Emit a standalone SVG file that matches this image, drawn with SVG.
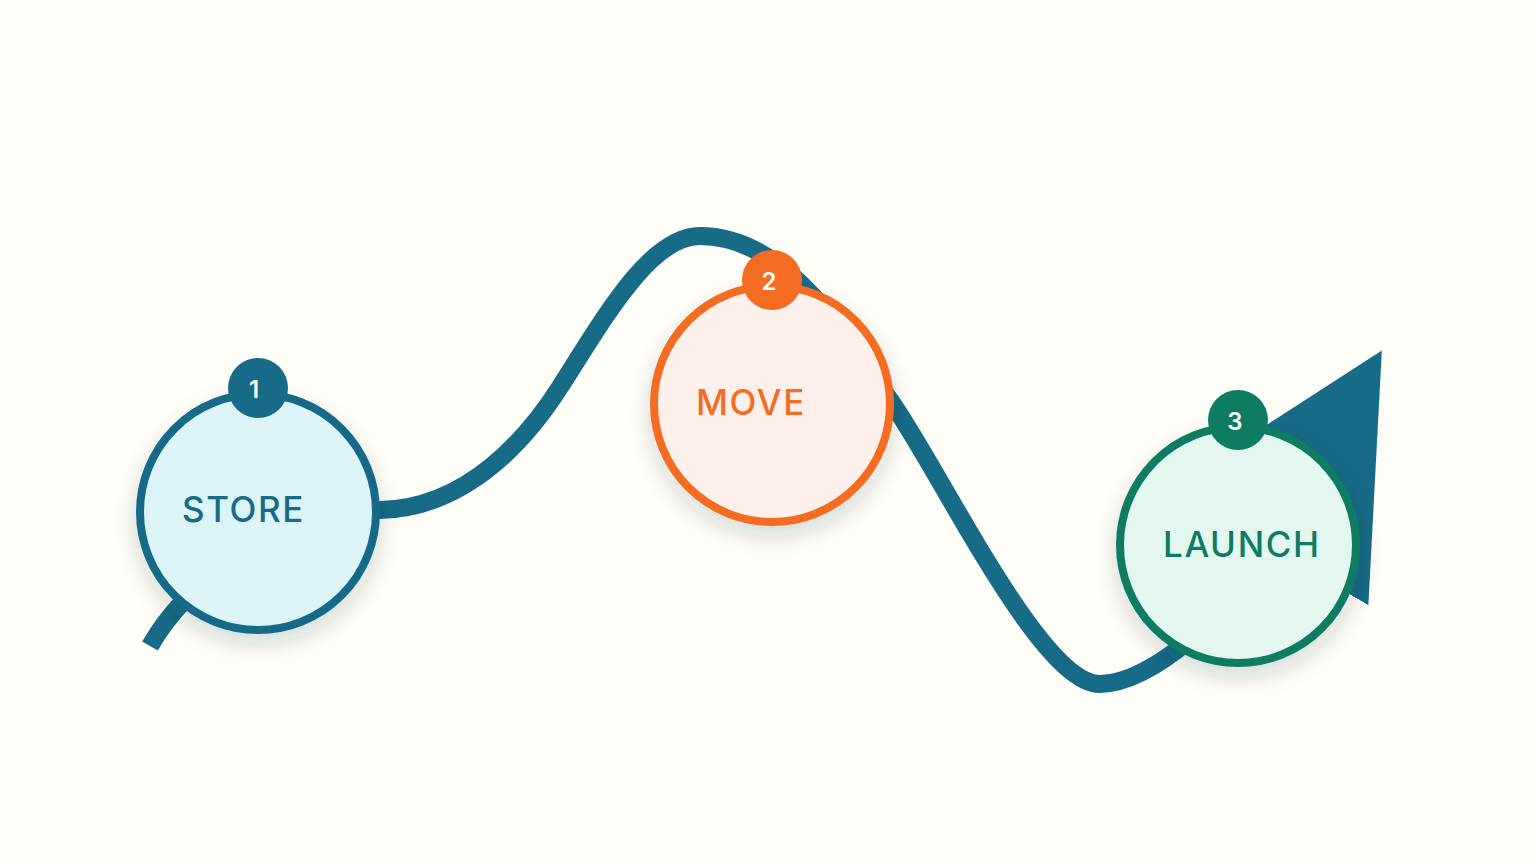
<svg xmlns="http://www.w3.org/2000/svg" width="1536" height="864" viewBox="0 0 1536 864">
  <defs>
    <marker id="arrow" viewBox="0 0 10 10" refX="0" refY="5" markerUnits="userSpaceOnUse" markerWidth="227" markerHeight="232" preserveAspectRatio="none" orient="auto">
      <path d="M0,0 L10,5 L0,10 z" fill="#176b87"/>
    </marker>
    <filter id="shadow" x="-30%" y="-30%" width="160%" height="170%">
      <feDropShadow dx="0" dy="10" stdDeviation="11" flood-color="#1d2a30" flood-opacity="0.16"/>
    </filter>
  </defs>
  <style>
    .ring { stroke-width: 8; filter: url(#shadow); }
    .label { font-family: Inter, "Noto Sans", "Liberation Sans", sans-serif; font-size: 35px; font-weight: 500; letter-spacing: 1.6px; }
    .num { font-family: Inter, "Noto Sans", "Liberation Sans", sans-serif; font-size: 24px; font-weight: 600; fill: #ffffff; text-anchor: middle; }
  </style>
  <rect width="1536" height="864" fill="#fefdf8"/>
  <g id="connectors">
    <path d="M150,646 C185,585 270,512 380,510 C470,508 530,434 560,387 C605,317 650,236 700,236 C790,236 850,344 890,400 C940,470 1040,684 1100,684 C1150,684 1228,616 1268,547" fill="none" stroke="#176b87" stroke-width="18" marker-end="url(#arrow)"/>
  </g>
  <g id="store">
    <circle class="ring" cx="258" cy="512" r="118" fill="#dcf3f8" stroke="#176b87"/>
    <circle cx="258" cy="388" r="30" fill="#176b87"/>
    <text class="num" x="254" y="398">1</text>
    <text class="label" x="182" y="522" fill="#176b87">STORE</text>
  </g>
  <g id="move">
    <circle class="ring" cx="772" cy="404" r="118" fill="#fdf0ea" stroke="#f36c21"/>
    <circle cx="772" cy="280" r="30" fill="#f36c21"/>
    <text class="num" x="769" y="290">2</text>
    <text class="label" x="696" y="415" fill="#f36c21">MOVE</text>
  </g>
  <g id="launch">
    <circle class="ring" cx="1238" cy="545" r="118" fill="#e4f6f0" stroke="#0e7b63"/>
    <circle cx="1238" cy="420" r="30" fill="#0e7b63"/>
    <text class="num" x="1235" y="430">3</text>
    <text class="label" x="1163" y="557" fill="#0e7b63">LAUNCH</text>
  </g>
</svg>
